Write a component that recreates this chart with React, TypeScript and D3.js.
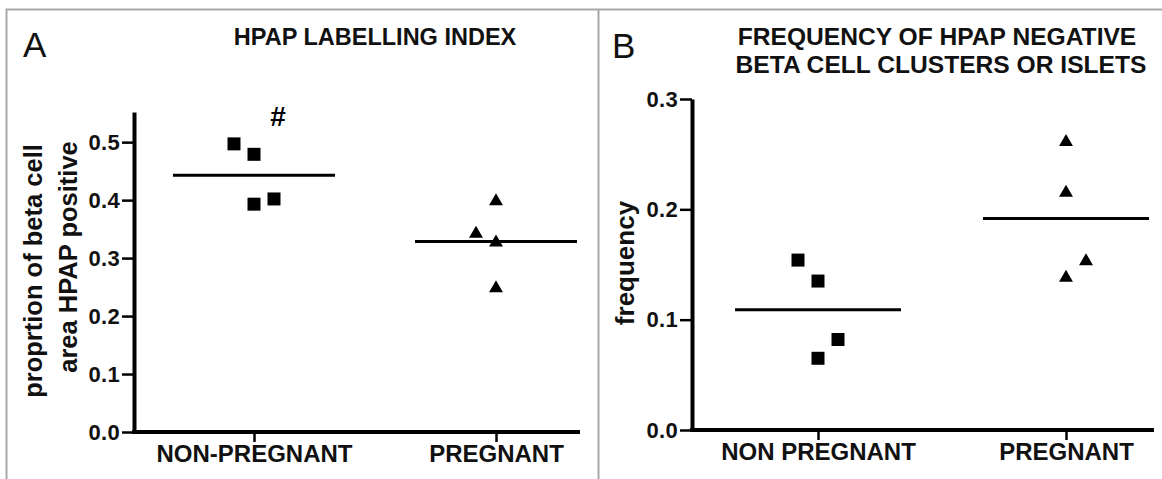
import React, { useEffect, useRef } from "react";
import * as d3 from "d3";

// categories
const categoriesA = ["NON-PREGNANT", "PREGNANT"];
const categoriesB = ["NON PREGNANT", "PREGNANT"];

// panel A: proportion of beta cell area HPAP positive
const labellingNonPregnant = [0.497, 0.479, 0.393, 0.402];
const labellingPregnant = [0.398, 0.342, 0.327, 0.248];

// panel B: frequency of HPAP negative clusters
const frequencyNonPregnant = [0.154, 0.135, 0.082, 0.065];
const frequencyPregnant = [0.261, 0.215, 0.153, 0.138];

const ticksA = [0, 0.1, 0.2, 0.3, 0.4, 0.5];
const ticksB = [0, 0.1, 0.2, 0.3];

// side-by-side placement of points that would overlap (in marker widths)
const spreadA = [[-1, 0, 0, 1], [0, -1, 0, 0]];
const spreadB = [[-1, 0, 1, 0], [0, 0, 1, 0]];

const FONT = "'Liberation Sans', Arial, Helvetica, sans-serif";

function drawPanel(g, p) {
  const y = d3.scaleLinear().domain(p.yDomain).range([p.bottom, p.top]);
  const x = d3.scalePoint().domain(p.cats).range(p.catRange);

  // y axis
  const yAxis = d3
    .axisLeft(y)
    .tickValues(p.ticks)
    .tickFormat(d3.format(".1f"))
    .tickSize(12)
    .tickSizeOuter(0)
    .tickPadding(2);
  const ya = g.append("g").attr("transform", `translate(${p.left},0)`).call(yAxis);
  ya.select(".domain").attr("stroke-width", 4).attr("stroke", "#000");
  ya.selectAll(".tick line").attr("stroke-width", 2.5).attr("stroke", "#000");
  ya.selectAll(".tick text")
    .attr("font-family", FONT)
    .attr("font-size", 22)
    .attr("font-weight", "bold")
    .attr("letter-spacing", 0.3)
    .attr("fill", "#111");

  // x axis
  const xAxis = d3.axisBottom(x).tickSize(10).tickSizeOuter(0).tickPadding(3);
  const xa = g.append("g").attr("transform", `translate(0,${p.bottom})`).call(xAxis);
  xa.select(".domain").remove();
  xa.selectAll(".tick line").attr("stroke-width", 2.5).attr("stroke", "#000");
  xa.selectAll(".tick text")
    .attr("font-family", FONT)
    .attr("font-size", 24)
    .attr("font-weight", "bold")
    .attr("fill", "#111");
  g.append("line")
    .attr("x1", p.left)
    .attr("x2", p.right)
    .attr("y1", p.bottom)
    .attr("y2", p.bottom)
    .attr("stroke", "#000")
    .attr("stroke-width", 4)
    .attr("stroke-linecap", "square");

  // points + means
  p.groups.forEach((vals, gi) => {
    const cx = x(p.cats[gi]);
    const sym = d3.symbol().type(p.symbols[gi]).size(p.symbols[gi] === d3.symbolSquare ? 169 : 84);
    g.append("g")
      .selectAll("path")
      .data(vals)
      .join("path")
      .attr("d", sym)
      .attr("transform", (d, i) => `translate(${cx + p.spread[gi][i] * 20},${y(d)})`)
      .attr("fill", "#000");
    const m = d3.mean(vals);
    g.append("line")
      .attr("x1", cx - p.meanHalf)
      .attr("x2", cx + p.meanHalf)
      .attr("y1", y(m))
      .attr("y2", y(m))
      .attr("stroke", "#000")
      .attr("stroke-width", 3);
  });

  return { x, y };
}

export default function App() {
  const svgRef = useRef(null);

  useEffect(() => {
    const svg = d3.select(svgRef.current);
    svg.selectAll("*").remove();

    // frame
    svg.append("path")
      .attr("d", "M6.5,479V9.5H1162M598.5,9.5V479")
      .attr("fill", "none")
      .attr("stroke", "#a8a8a8")
      .attr("stroke-width", 2);

    const gA = svg.append("g");
    const a = drawPanel(gA, {
      cats: categoriesA,
      groups: [labellingNonPregnant, labellingPregnant],
      spread: spreadA,
      symbols: [d3.symbolSquare, d3.symbolTriangle],
      yDomain: [0, 0.552],
      ticks: ticksA,
      bottom: 432,
      top: 112,
      left: 134,
      right: 578,
      catRange: [254, 496],
      meanHalf: 81,
    });
    gA.append("text")
      .attr("x", a.x(categoriesA[0]) + 24)
      .attr("y", a.y(0.528))
      .attr("text-anchor", "middle")
      .attr("font-family", FONT)
      .attr("font-size", 28)
      .attr("font-weight", "bold")
      .text("#");

    const gB = svg.append("g");
    drawPanel(gB, {
      cats: categoriesB,
      groups: [frequencyNonPregnant, frequencyPregnant],
      spread: spreadB,
      symbols: [d3.symbolSquare, d3.symbolTriangle],
      yDomain: [0, 0.3],
      ticks: ticksB,
      bottom: 430,
      top: 99,
      left: 692,
      right: 1152,
      catRange: [818, 1066],
      meanHalf: 83,
    });

    // titles
    const txt = (x, yy, s, size, weight, anchor = "middle") =>
      svg.append("text")
        .attr("x", x)
        .attr("y", yy)
        .attr("text-anchor", anchor)
        .attr("font-family", FONT)
        .attr("font-size", size)
        .attr("font-weight", weight)
        .attr("fill", "#111")
        .text(s);

    txt(23, 57, "A", 35, "normal", "start");
    txt(612, 58, "B", 35, "normal", "start");
    txt(375, 45, "HPAP LABELLING INDEX", 23.5, "bold");
    txt(937, 45, "FREQUENCY OF HPAP NEGATIVE", 24.6, "bold");
    txt(941, 73, "BETA CELL CLUSTERS OR ISLETS", 24.6, "bold");

    // rotated y labels
    const rot = (x, yy, s, size) =>
      svg.append("text")
        .attr("transform", `translate(${x},${yy}) rotate(-90)`)
        .attr("text-anchor", "middle")
        .attr("font-family", FONT)
        .attr("font-size", size)
        .attr("font-weight", "bold")
        .attr("fill", "#111")
        .text(s);
    rot(42, 271, "proprtion of beta cell", 25.5);
    rot(76.5, 257, "area HPAP positive", 25.5);
    rot(634, 263, "frequency", 26);
  }, []);

  return (
    <svg
      ref={svgRef}
      width={1162}
      height={479}
      style={{ position: "absolute", left: 0, top: 0, background: "#fff" }}
    />
  );
}
